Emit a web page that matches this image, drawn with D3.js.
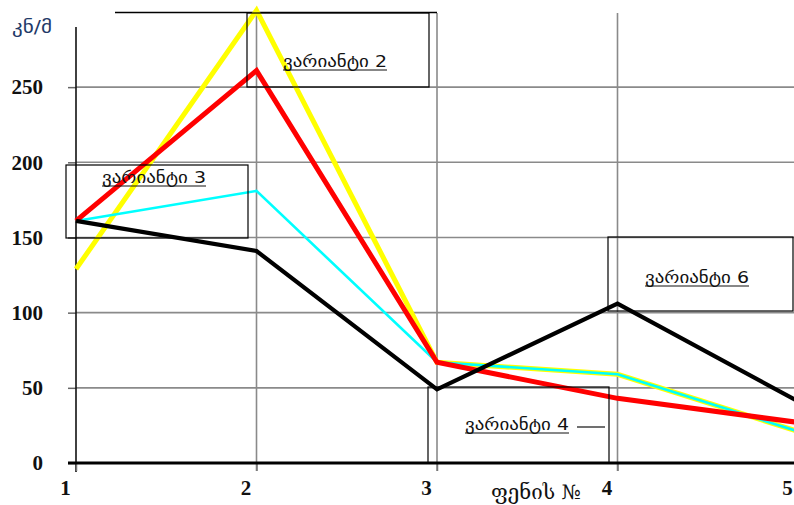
<!DOCTYPE html>
<html><head><meta charset="utf-8">
<script src="https://cdn.jsdelivr.net/npm/d3@7"></script>
<style>body{margin:0;background:#fff}svg{display:block}</style>
</head><body>
<svg id="c" width="794" height="505"></svg>
<script>
const categories = [1, 2, 3, 4, 5];
const yellowVals = [129, 301, 67, 59, 21];
const cyanVals   = [161, 181, 67, 59, 21];
const redVals    = [161, 261, 67, 43, 27];
const blackVals  = [161, 141, 49, 106, 41];
const yTicks = [0, 50, 100, 150, 200, 250];
const xTitle = "ფენის №";
const yTitle = "კნ/მ";
const boxLabels = ["ვარიანტი 2", "ვარიანტი 3", "ვარიანტი 4", "ვარიანტი 6"];

const svg = d3.select("#c");
const x = d3.scalePoint().domain(categories).range([76, 798]);
const y = d3.scaleLinear().domain([0, 290]).range([463, 27]);

// horizontal gridlines
svg.append("g").selectAll("line").data(yTicks.filter(d => d > 0)).join("line")
  .attr("x1", 76).attr("x2", 794).attr("y1", d => y(d)).attr("y2", d => y(d))
  .attr("stroke", "#8a8a8a").attr("stroke-width", 1.6);
// vertical gridlines
svg.append("g").selectAll("line").data(categories.slice(1, 4)).join("line")
  .attr("x1", d => x(d)).attr("x2", d => x(d)).attr("y1", 13).attr("y2", 471)
  .attr("stroke", "#8a8a8a").attr("stroke-width", 1.6);

// y axis
const yAxis = d3.axisLeft(y).tickValues(yTicks).tickSize(8).tickPadding(25);
const ga = svg.append("g").attr("transform", "translate(76,0)").call(yAxis);
ga.select(".domain").remove();
ga.selectAll(".tick line").attr("stroke", "#666").attr("stroke-width", 1.5);
ga.selectAll(".tick text").attr("font-family", "Liberation Serif, Times New Roman, serif")
  .attr("font-weight", "bold").attr("font-size", 21).attr("fill", "#111");
svg.append("line").attr("x1", 76).attr("x2", 76).attr("y1", y(290)).attr("y2", 472)
  .attr("stroke", "#111").attr("stroke-width", 1.6);

// x axis
const xAxis = d3.axisBottom(x).tickSize(8).tickPadding(9);
const gx = svg.append("g").attr("transform", "translate(0,463)").call(xAxis);
gx.select(".domain").remove();
gx.selectAll(".tick line").attr("stroke", "#777").attr("stroke-width", 1.5);
gx.selectAll(".tick text").attr("font-family", "Liberation Serif, Times New Roman, serif")
  .attr("font-weight", "bold").attr("font-size", 21).attr("fill", "#111")
  .attr("dx", -11);
svg.append("line").attr("x1", 68).attr("x2", 794).attr("y1", 463).attr("y2", 463)
  .attr("stroke", "#000").attr("stroke-width", 3);

// top line
svg.append("line").attr("x1", 115).attr("x2", 437).attr("y1", 12.5).attr("y2", 12.5)
  .attr("stroke", "#000").attr("stroke-width", 1.3);

// boxes
const boxes = [
  {x0: 247, x1: 429, y0: 13, y1: 87, label: boxLabels[0], tx: 283, ty: 67},
  {x0: 66, x1: 248, y0: 165, y1: 238, label: boxLabels[1], tx: 102, ty: 183},
  {x0: 428, x1: 609, y0: 387, y1: 463, label: boxLabels[2], tx: 465, ty: 430},
  {x0: 608, x1: 793, y0: 237, y1: 311, label: boxLabels[3], tx: 645, ty: 283}
];
const bg = svg.append("g");
bg.selectAll("rect").data(boxes).join("rect")
  .attr("x", d => d.x0).attr("y", d => d.y0)
  .attr("width", d => d.x1 - d.x0).attr("height", d => d.y1 - d.y0)
  .attr("fill", "none").attr("stroke", "#000").attr("stroke-width", 1.2);

// lines
const line = d3.line().x((d, i) => x(categories[i])).y(d => y(d));
const series = [
  {v: yellowVals, c: "#ffff00", w: 5},
  {v: cyanVals, c: "#00ffff", w: 2.6},
  {v: redVals, c: "#ff0000", w: 5},
  {v: blackVals, c: "#000000", w: 4.2}
];
svg.append("g").selectAll("path").data(series).join("path")
  .attr("d", d => line(d.v)).attr("fill", "none")
  .attr("stroke", d => d.c).attr("stroke-width", d => d.w)
  .attr("stroke-linejoin", "miter").attr("stroke-miterlimit", 10);

// box labels
bg.raise();
const tg = svg.append("g");
boxes.forEach(b => {
  tg.append("text").attr("x", b.tx).attr("y", b.ty)
    .attr("font-family", "DejaVu Sans, sans-serif").attr("font-size", 15.5)
    .attr("fill", "#111").attr("textLength", 104).attr("lengthAdjust", "spacingAndGlyphs")
    .text(b.label);
  tg.append("line").attr("x1", b.tx).attr("x2", b.tx + 104)
    .attr("y1", b.ty + 3).attr("y2", b.ty + 3).attr("stroke", "#111").attr("stroke-width", 1);
});
tg.append("line").attr("x1", 577).attr("x2", 605).attr("y1", 427).attr("y2", 427)
  .attr("stroke", "#111").attr("stroke-width", 1.2);

// titles
svg.append("text").attr("x", 12).attr("y", 33).attr("font-family", "DejaVu Sans, sans-serif")
  .attr("font-size", 18).attr("fill", "#1f3a68")
  .attr("textLength", 40).attr("lengthAdjust", "spacingAndGlyphs").text(yTitle);
svg.append("text").attr("x", 491).attr("y", 499).attr("font-family", "DejaVu Serif, serif")
  .attr("font-size", 20).attr("fill", "#111")
  .attr("textLength", 90).attr("lengthAdjust", "spacingAndGlyphs").text(xTitle);
</script>
</body></html>
